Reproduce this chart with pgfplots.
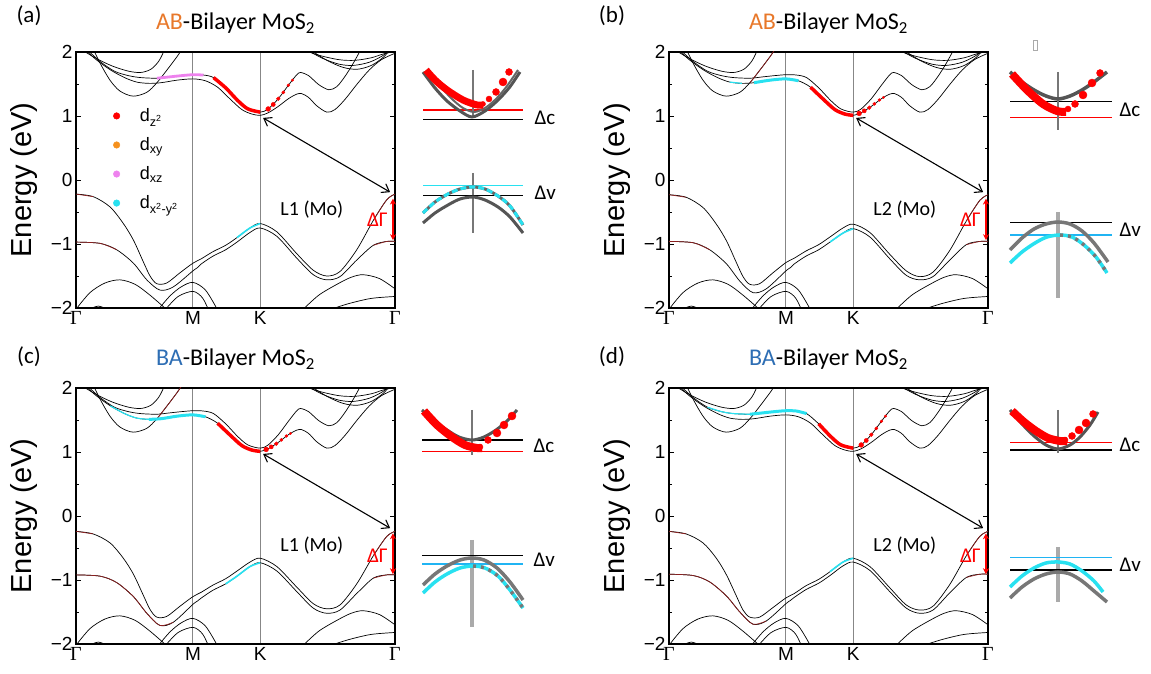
\documentclass[border=0pt]{standalone}
\usepackage{fontspec}
\setmainfont{Liberation Sans}
\newfontfamily\calfont{Carlito}
\newfontfamily\serifG{Liberation Serif}
\usepackage{pgfplots}
\pgfplotsset{compat=1.18}
\usepackage{pgfplotstable}
\usetikzlibrary{arrows.meta}

\definecolor{abor}{RGB}{232,120,42}
\definecolor{bablue}{RGB}{46,110,180}
\definecolor{cyn}{RGB}{40,225,240}
\definecolor{pnk}{RGB}{238,130,238}
\definecolor{org}{RGB}{245,145,30}
\definecolor{dred}{RGB}{140,30,30}
\definecolor{vgray}{RGB}{135,135,135}
\definecolor{g55}{RGB}{85,85,85}
\definecolor{g66}{RGB}{102,102,102}
\definecolor{g77}{RGB}{119,119,119}
\definecolor{gAA}{RGB}{170,170,170}

% ---------- band data (x: Gamma=0, M=0.578, K=0.911, Gamma=1.577) ----------
\pgfplotstableread{
x a b c d
0 -0.22 -0.23 -0.24 -0.24
0.085 -0.26 -0.27 -0.28 -0.28
0.168 -0.42 -0.43 -0.42 -0.42
0.234 -0.68 -0.69 -0.66 -0.66
0.284 -0.94 -0.95 -0.91 -0.92
0.333 -1.28 -1.29 -1.24 -1.25
0.366 -1.50 -1.51 -1.46 -1.47
0.399 -1.62 -1.63 -1.58 -1.58
0.448 -1.61 -1.62 -1.57 -1.58
0.514 -1.45 -1.45 -1.41 -1.43
0.578 -1.30 -1.29 -1.26 -1.28
0.62 -1.23 -1.22 -1.19 -1.21
0.677 -1.12 -1.11 -1.08 -1.09
0.74 -1.02 -1.01 -0.98 -0.99
0.796 -0.90 -0.89 -0.86 -0.87
0.86 -0.75 -0.75 -0.72 -0.72
0.911 -0.68 -0.69 -0.66 -0.66
0.993 -0.81 -0.82 -0.79 -0.79
1.091 -1.15 -1.16 -1.11 -1.12
1.173 -1.41 -1.42 -1.37 -1.39
1.239 -1.50 -1.51 -1.45 -1.47
1.305 -1.43 -1.44 -1.39 -1.41
1.388 -1.09 -1.10 -1.06 -1.07
1.470 -0.63 -0.64 -0.62 -0.62
1.536 -0.31 -0.32 -0.32 -0.32
1.577 -0.22 -0.23 -0.24 -0.24
}\vA
\pgfplotstableread{
x a b c d
0 -0.97 -0.96 -0.92 -0.91
0.119 -0.99 -0.98 -0.94 -0.93
0.201 -1.09 -1.09 -1.04 -1.03
0.284 -1.30 -1.31 -1.26 -1.25
0.350 -1.56 -1.58 -1.52 -1.50
0.415 -1.72 -1.76 -1.71 -1.69
0.481 -1.67 -1.70 -1.66 -1.64
0.578 -1.42 -1.42 -1.38 -1.37
0.60 -1.37 -1.37 -1.33 -1.32
0.62 -1.31 -1.31 -1.28 -1.27
0.677 -1.19 -1.19 -1.16 -1.15
0.74 -1.09 -1.09 -1.06 -1.05
0.796 -0.97 -0.97 -0.94 -0.93
0.86 -0.82 -0.83 -0.79 -0.78
0.911 -0.75 -0.76 -0.73 -0.72
0.993 -0.88 -0.89 -0.86 -0.85
1.091 -1.22 -1.23 -1.18 -1.18
1.173 -1.48 -1.49 -1.44 -1.44
1.239 -1.56 -1.56 -1.52 -1.52
1.305 -1.51 -1.51 -1.47 -1.47
1.388 -1.25 -1.25 -1.21 -1.20
1.470 -1.02 -1.01 -0.97 -0.96
1.536 -0.96 -0.96 -0.92 -0.91
1.577 -0.96 -0.96 -0.92 -0.91
}\vB
\pgfplotstableread{
x E
0 -2.02
0.069 -1.76
0.143 -1.61
0.217 -1.56
0.292 -1.63
0.366 -1.80
0.45 -2.03
}\tC
\pgfplotstableread{
x E
0.405 -2.03
0.465 -1.81
0.52 -1.67
0.578 -1.60
0.64 -1.72
0.70 -2.03
}\tDa
\pgfplotstableread{
x E
0.44 -2.03
0.505 -1.82
0.578 -1.74
0.625 -1.84
0.655 -2.03
}\tDb
\pgfplotstableread{
x E
1.12 -2.03
1.20 -1.80
1.29 -1.63
1.36 -1.52
1.42 -1.48
1.50 -1.54
1.577 -1.70
}\tEa
\pgfplotstableread{
x E
1.25 -2.03
1.35 -1.93
1.46 -1.85
1.577 -1.82
}\tEb
\pgfplotstableread{
x E
0.06 -2.03
0.11 -1.97
0.16 -2.03
}\tS
\pgfplotstableread{
x E
0.08 2.08
0.12 1.82
0.168 1.56
0.217 1.39
0.282 1.31
0.35 1.37
0.40 1.52
0.45 1.72
0.50 1.93
0.53 2.07
}\tF
\pgfplotstableread{
x E
0.04 2.05
0.10 1.88
0.17 1.72
0.24 1.60
0.30 1.53
0.36 1.51
0.42 1.52
0.50 1.56
0.578 1.58
0.64 1.55
0.70 1.45
0.76 1.27
0.82 1.10
0.87 1.03
0.911 1.01
0.95 1.05
1.00 1.15
1.05 1.27
1.09 1.34
1.115 1.35
1.15 1.29
1.19 1.16
1.24 1.06
1.28 1.10
1.33 1.26
1.39 1.50
1.45 1.72
1.51 1.88
1.577 1.98
}\tG
\pgfplotstableread{
x E
0.05 2.05
0.12 1.85
0.19 1.70
0.26 1.63
0.32 1.60
0.40 1.59
0.46 1.61
0.52 1.63
0.578 1.645
0.63 1.64
0.68 1.60
0.74 1.44
0.80 1.24
0.85 1.11
0.911 1.06
0.95 1.11
1.00 1.27
1.05 1.48
1.09 1.64
1.11 1.68
1.15 1.63
1.20 1.49
1.25 1.41
1.29 1.46
1.33 1.62
1.37 1.82
1.41 2.05
}\tP
\pgfplotstableread{
x E
0.02 2.05
0.10 1.90
0.18 1.78
0.26 1.70
0.32 1.68
0.37 1.73
0.41 1.86
0.44 2.05
}\tQ
\pgfplotstableread{
x E
1.11 2.05
1.20 1.95
1.30 1.88
1.38 1.87
1.46 1.91
1.52 1.97
1.577 2.01
}\tJa
\pgfplotstableread{
x E
1.13 2.05
1.22 1.90
1.30 1.81
1.37 1.79
1.45 1.84
1.52 1.95
1.55 2.05
}\tJb
\pgfplotstableread{
x E
1.15 2.05
1.24 1.87
1.32 1.76
1.39 1.73
1.46 1.79
1.52 1.92
1.555 2.05
}\tJc
\pgfplotstableread{
x y s
0.95 1.11 2.4
0.975 1.18 2.1
1.00 1.27 1.9
1.025 1.37 1.6
1.05 1.48 1.4
1.07 1.56 1.2
}\dotsP
\pgfplotstableread{
x y s
0.94 1.04 2.4
0.965 1.08 2.1
0.99 1.13 1.9
1.015 1.19 1.6
1.04 1.25 1.4
1.06 1.29 1.2
}\dotsG

\pgfplotsset{
 bandax/.style={scale only axis, width=319pt, height=256pt,
   xmin=0, xmax=1.577, ymin=-2, ymax=2, clip mode=individual,
   xtick={0,0.578,0.911,1.577},
   xticklabels={{\serifG\fontsize{20}{20}\selectfont Γ},M,K,{\serifG\fontsize{20}{20}\selectfont Γ}},
   ytick={-2,-1,0,1,2}, yticklabels={−2,−1,0,1,2},
   minor ytick={-1.5,-0.5,0.5,1.5},
   tick align=inside, major tick length=5pt, minor tick length=3pt,
   tick style={black, line width=0.9pt},
   xtick style={draw=none},
   xmajorgrids, x grid style={vgray, line width=1pt},
   axis line style={line width=1.3pt},
   tick label style={font=\fontsize{19}{20}\selectfont},
   ylabel={Energy (eV)},
   ylabel style={font=\fontsize{29}{30}\selectfont, at={(axis description cs:-0.163,0.5)}, anchor=center},
   title style={at={(0.5,1)}, anchor=base, yshift=16pt, font=\calfont\fontsize{24}{24}\selectfont},
 },
 band/.style={black, line width=0.7pt, smooth, no markers},
 dots/.style={scatter, only marks, mark=*, scatter/use mapped color={draw=red, fill=red},
   point meta=\thisrow{s}, visualization depends on={\thisrow{s}\as\ms},
   scatter/@pre marker code/.append style={/tikz/mark size=\ms}},
 inset/.style={scale only axis, hide axis, clip=false, xmin=0, ymin=0},
}
\newcommand\commonbands[1]{%
 \addplot[band] table[x=x,y=#1]{\vA};
 \addplot[band] table[x=x,y=#1]{\vB};
 \addplot[band] table{\tC};
 \addplot[band] table{\tDa};
 \addplot[band] table{\tDb};
 \addplot[band] table{\tEa};
 \addplot[band] table{\tEb};
 \addplot[band] table{\tS};
 \addplot[band] table{\tF};
 \addplot[band] table{\tG};
 \addplot[band] table{\tP};
 \addplot[band] table{\tQ};
 \addplot[band] table{\tJa};
 \addplot[band] table{\tJb};
 \addplot[band] table{\tJc};
 \addplot[band, dred, restrict x to domain=0:0.12] table[x=x,y=#1]{\vA};
 \addplot[band, dred, restrict x to domain=1.45:1.577] table[x=x,y=#1]{\vA};
 \addplot[band, dred, restrict x to domain=1.40:1.577] table[x=x,y=#1]{\vB};
}
\newcommand\annot[3]{% label, top of Delta Gamma, bottom
 \draw[{Straight Barb[length=7pt,width=10pt]}-{Straight Barb[length=7pt,width=10pt]}, line width=1.1pt]
   (axis cs:0.925,0.97) -- (axis cs:1.553,-0.19);
 \draw[red, line width=1.5pt, {Stealth[length=6pt,width=6pt]}-{Stealth[length=6pt,width=6pt]}]
   (axis cs:1.567,#2) -- (axis cs:1.567,#3);
 \node[red, font=\calfont\fontsize{21}{21}\selectfont] at (axis cs:1.49,-0.62) {ΔΓ};
 \node[font=\calfont\fontsize{20}{20}\selectfont] at (axis cs:1.166,-0.46) {#1};
}
\newcommand\dfont{\calfont\fontsize{21}{21}\selectfont}

\begin{document}
\begin{tikzpicture}[x=1pt,y=1pt]
\useasboundingbox (0,0) rectangle (1151,674);

% ================= (a) =================
\begin{axis}[bandax, at={(76pt,366pt)}, anchor=south west,
  title={{\color{abor}AB}-Bilayer MoS\textsubscript{2}},
  legend style={at={(rel axis cs:0.107,0.795)}, anchor=north west, draw=none, fill=none,
    font=\fontsize{18}{20}\selectfont, row sep=10.5pt,
    /tikz/every odd column/.append style={column sep=18pt}},
  legend cell align=left]
\addlegendimage{only marks, mark=*, mark size=3.3pt, red}
\addlegendentry{d\textsubscript{z\textsuperscript{2}}}
\addlegendimage{only marks, mark=*, mark size=3.3pt, org}
\addlegendentry{d\textsubscript{xy}}
\addlegendimage{only marks, mark=*, mark size=3.3pt, pnk}
\addlegendentry{d\textsubscript{xz}}
\addlegendimage{only marks, mark=*, mark size=3.3pt, cyn}
\addlegendentry{d\textsubscript{x\textsuperscript{2}-y\textsuperscript{2}}}
\commonbands{a}
\addplot[band, dred, restrict x to domain=0:0.25] table[x=x,y=a]{\vB};
\addplot[band, cyn, line width=1.6pt, restrict x to domain=0.76:0.93] table[x=x,y=a]{\vA};
\addplot[band, pnk, line width=2.8pt, restrict x to domain=0.39:0.67] table{\tP};
\addplot[band, red, line width=3.5pt, restrict x to domain=0.66:0.93] table{\tP};
\addplot[dots] table{\dotsP};
\annot{L1 (Mo)}{-0.29}{-0.94}
\end{axis}

% ================= (b) =================
\begin{axis}[bandax, at={(669pt,366pt)}, anchor=south west,
  title={{\color{abor}AB}-Bilayer MoS\textsubscript{2}}]
\commonbands{b}
\addplot[band, dred, restrict x to domain=0:0.25] table[x=x,y=b]{\vB};
\addplot[band, dred, restrict x to domain=0.40:0.53] table{\tF};
\addplot[band, cyn, line width=1.6pt, restrict x to domain=0.78:0.95] table[x=x,y=b]{\vB};
\addplot[band, cyn, line width=1.2pt, restrict x to domain=0.25:0.39] table{\tG};
\addplot[band, cyn, line width=3pt, restrict x to domain=0.38:0.69] table{\tG};
\addplot[band, red, line width=3.5pt, restrict x to domain=0.68:0.93] table{\tG};
\addplot[dots] table{\dotsG};
\annot{L2 (Mo)}{-0.29}{-0.94}
\end{axis}

% ================= (c) =================
\begin{axis}[bandax, at={(76pt,30pt)}, anchor=south west,
  title={{\color{bablue}BA}-Bilayer MoS\textsubscript{2}}]
\commonbands{c}
\addplot[band, dred, restrict x to domain=0:0.50] table[x=x,y=c]{\vB};
\addplot[band, dred, restrict x to domain=0.40:0.53] table{\tF};
\addplot[band, cyn, line width=1.6pt, restrict x to domain=0.70:0.95] table[x=x,y=c]{\vB};
\addplot[band, cyn, line width=1.2pt, restrict x to domain=0.17:0.37] table{\tG};
\addplot[band, cyn, line width=3pt, restrict x to domain=0.36:0.69] table{\tG};
\addplot[band, red, line width=3.5pt, restrict x to domain=0.68:0.93] table{\tG};
\addplot[dots] table{\dotsG};
\annot{L1 (Mo)}{-0.27}{-0.91}
\end{axis}

% ================= (d) =================
\begin{axis}[bandax, at={(669pt,30pt)}, anchor=south west,
  title={{\color{bablue}BA}-Bilayer MoS\textsubscript{2}}]
\commonbands{d}
\addplot[band, dred, restrict x to domain=0:0.50] table[x=x,y=d]{\vB};
\addplot[band, cyn, line width=1.6pt, restrict x to domain=0.76:0.96] table[x=x,y=d]{\vA};
\addplot[band, cyn, line width=1.2pt, restrict x to domain=0.19:0.41] table{\tP};
\addplot[band, cyn, line width=3pt, restrict x to domain=0.40:0.71] table{\tP};
\addplot[band, red, line width=3.5pt, restrict x to domain=0.70:0.93] table{\tP};
\addplot[dots] table{\dotsP};
\annot{L2 (Mo)}{-0.27}{-0.91}
\end{axis}

% ================= insets (a) =================
\begin{axis}[inset, at={(423pt,439pt)}, anchor=south west, width=100pt, height=170pt, xmax=100, ymax=170]
\addplot[black, line width=1.3pt] coordinates {(0,115.7)(100,115.7)};
\addplot[red, line width=1.3pt] coordinates {(0,125)(100,125)};
\addplot[g77, line width=1.2pt] coordinates {(50,165)(50,117)};
\addplot[g55, line width=3pt, smooth] coordinates {(0,163)(12,147)(24,134)(37,124)(49,118)(62,124)(74,134)(86,147)(97,163)};
\addplot[g66, line width=2pt, smooth] coordinates {(4,165)(17,149)(29,136)(40,127)(51,123)(62,127)(73,136)(84,149)(95,165)};
\addplot[red, line width=7pt, smooth] coordinates {(3,165)(12,155)(24,145)(40,135)(54,130)(60,130)};
\addplot[dots] table {
x y s
60 131 2.5
66 136 3
73 143 3.5
80 153 4
86 163 3.5
};
\addplot[g77, line width=1.2pt] coordinates {(50,62)(50,2)};
\addplot[cyn, line width=1.3pt] coordinates {(0,49.3)(100,49.3)};
\addplot[black, line width=1.3pt] coordinates {(0,39.3)(100,39.3)};
\addplot[g55, line width=3pt, smooth] coordinates {(0,12)(12,22)(25,30)(37,36)(50,38)(62,35)(75,28)(87,18)(100,2)};
\addplot[g66, line width=3pt, smooth] coordinates {(0,22)(12,33)(25,41)(37,46)(50,48)(62,46)(75,39)(87,29)(100,10)};
\addplot[cyn, line width=3pt, smooth, dash pattern=on 6pt off 3pt] coordinates {(0,22)(12,33)(25,41)(37,46)(50,48)(62,46)(75,39)(87,29)(100,10)};
\node[anchor=west, font=\dfont] at (axis cs:108,117) {Δc};
\node[anchor=west, font=\dfont] at (axis cs:108,42) {Δv};
\end{axis}

% ================= insets (b) =================
\begin{axis}[inset, at={(1010pt,374pt)}, anchor=south west, width=102pt, height=235pt, xmax=102, ymax=235]
\addplot[black, line width=1.3pt] coordinates {(0,198.3)(102,198.3)};
\addplot[red, line width=1.3pt] coordinates {(0,182.7)(102,182.7)};
\addplot[g77, line width=1.5pt] coordinates {(48,228)(48,170)};
\addplot[g55, line width=3.5pt, smooth] coordinates {(0,228)(12,218)(24,210)(36,204)(48,201)(60,204)(72,210)(84,218)(97,228)};
\addplot[red, line width=8pt, smooth] coordinates {(2,226)(17,210)(33,196)(47,189)(56,188)};
\addplot[dots] table {
x y s
58 191 3
65 196 3.5
73 205 4
82 217 4
90 227 3.5
};
\addplot[gAA, line width=4pt] coordinates {(48,88)(48,2)};
\addplot[black, line width=1.3pt] coordinates {(0,77.3)(102,77.3)};
\addplot[cyn!80!blue, line width=1.3pt] coordinates {(0,65)(102,65)};
\addplot[g77, line width=3.5pt, smooth] coordinates {(0,50)(12,62)(24,71)(36,76)(48,78)(60,76)(72,69)(84,57)(98,38)};
\addplot[cyn, line width=3.5pt, smooth] coordinates {(0,37)(12,48)(25,57)(37,63)(50,65)(62,63)(74,55)(86,43)(97,27)};
\addplot[g77, line width=3.5pt, smooth, dash pattern=on 3pt off 5pt] coordinates {(50,65)(62,63)(74,55)(86,43)(97,27)};
\node[anchor=west, font=\dfont] at (axis cs:106,190) {Δc};
\node[anchor=west, font=\dfont] at (axis cs:106,70) {Δv};
\end{axis}

% ================= insets (c) =================
\begin{axis}[inset, at={(422pt,39pt)}, anchor=south west, width=101pt, height=235pt, xmax=101, ymax=235]
\addplot[black, line width=1.3pt] coordinates {(0,195)(101,195)};
\addplot[red, line width=1.3pt] coordinates {(0,183.3)(101,183.3)};
\addplot[g77, line width=1.2pt] coordinates {(50,225)(50,180)};
\addplot[g55, line width=3pt, smooth] coordinates {(0,225)(12,214)(25,205)(37,198)(50,195)(62,198)(74,205)(85,214)(95,225)};
\addplot[red, line width=8pt, smooth] coordinates {(2,224)(15,210)(30,198)(43,190)(55,187)(60,187)};
\addplot[dots] table {
x y s
58 188 3
66 195 3.5
75 202 4
82 210 4
90 219 4
};
\addplot[gAA, line width=4pt] coordinates {(50,95)(50,8)};
\addplot[black, line width=1.3pt] coordinates {(0,79.3)(101,79.3)};
\addplot[cyn!80!blue, line width=1.3pt] coordinates {(0,71)(101,71)};
\addplot[g77, line width=3.5pt, smooth] coordinates {(1,50)(13,61)(25,69)(38,75)(50,77)(62,75)(75,67)(88,53)(101,35)};
\addplot[cyn, line width=3.5pt, smooth] coordinates {(1,42)(13,53)(25,61)(38,67)(51,69)(63,67)(76,59)(88,45)(101,27)};
\addplot[g77, line width=3.5pt, smooth, dash pattern=on 3pt off 5pt] coordinates {(51,69)(63,67)(76,59)(88,45)(101,27)};
\node[anchor=west, font=\dfont] at (axis cs:108,189) {Δc};
\node[anchor=west, font=\dfont] at (axis cs:108,75) {Δv};
\end{axis}

% ================= insets (d) =================
\begin{axis}[inset, at={(1010pt,39pt)}, anchor=south west, width=102pt, height=235pt, xmax=102, ymax=235]
\addplot[red, line width=1.3pt] coordinates {(0,192.3)(102,192.3)};
\addplot[black, line width=1.3pt] coordinates {(0,185)(102,185)};
\addplot[g77, line width=1.2pt] coordinates {(48,225)(48,182)};
\addplot[g55, line width=3pt, smooth] coordinates {(0,225)(12,211)(24,199)(36,190)(48,186)(60,190)(70,198)(80,210)(88,223)};
\addplot[red, line width=8pt, smooth] coordinates {(2,224)(14,213)(26,204)(38,197)(50,194)(57,194)};
\addplot[dots] table {
x y s
55 195 3
62 199 3.5
69 205 4
76 212 4
83 221 3.5
};
\addplot[gAA, line width=4pt] coordinates {(48,88)(48,33)};
\addplot[cyn!80!blue, line width=1.3pt] coordinates {(0,77.3)(102,77.3)};
\addplot[black, line width=1.3pt] coordinates {(0,65)(102,65)};
\addplot[cyn, line width=3.5pt, smooth] coordinates {(0,48)(12,59)(24,67)(36,72)(48,73)(60,71)(72,64)(84,54)(93,43)};
\addplot[g77, line width=3.5pt, smooth] coordinates {(0,37)(12,48)(24,56)(36,61)(48,63)(60,61)(72,54)(84,44)(97,33)};
\node[anchor=west, font=\dfont] at (axis cs:106,190) {Δc};
\node[anchor=west, font=\dfont] at (axis cs:106,70) {Δv};
\end{axis}

% panel letters
\node[font=\calfont\fontsize{23}{23}\selectfont] at (29,658) {(a)};
\node[font=\calfont\fontsize{23}{23}\selectfont] at (612,658) {(b)};
\node[font=\calfont\fontsize{23}{23}\selectfont] at (29,317) {(c)};
\node[font=\calfont\fontsize{23}{23}\selectfont] at (612,317) {(d)};
\draw[gAA, line width=0.8pt] (1033,624) rectangle (1037,634);
\end{tikzpicture}
\end{document}
